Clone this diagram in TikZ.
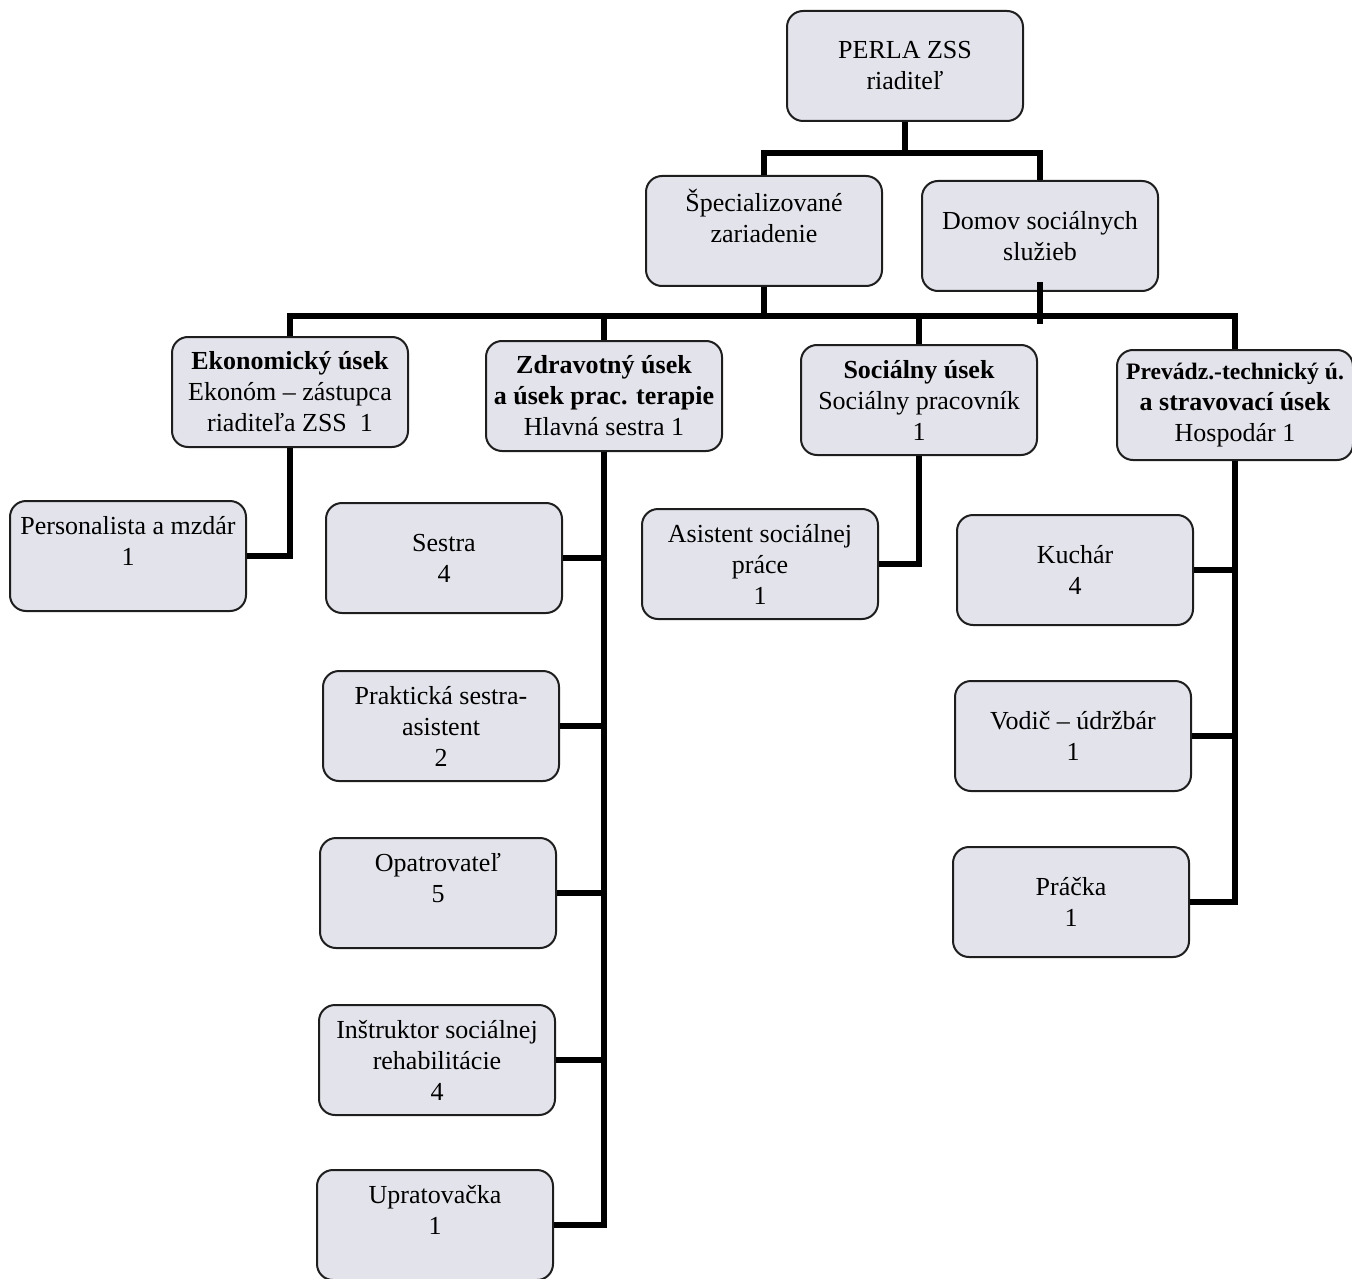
\documentclass[tikz,border=0pt]{standalone}
\usepackage{fontspec}
\setmainfont{Liberation Serif}
\usepackage{tikz}
\usetikzlibrary{calc}
\definecolor{boxfill}{RGB}{227,227,235}
\definecolor{boxline}{RGB}{30,30,30}
\tikzset{
  box/.style={draw=boxline, line width=1pt, fill=boxfill, rounded corners=8pt,
    minimum width=118pt, minimum height=55pt, align=center, inner sep=2pt,
    font=\fontsize{13}{15.5}\selectfont},
  spoj/.style={line width=2.6pt, line join=miter}
}
\begin{document}
\begin{tikzpicture}[x=0.5pt,y=-0.5pt]
  \useasboundingbox (0,0) rectangle (1352,1278);
  % vedenie
  \node[box] (riad) at (905,66) {PERLA ZSS\\riaditeľ};
  \node[box] (spec) at (764,231) {Špecializované\\zariadenie\\~};
  \node[box] (dom) at (1040,236) {Domov sociálnych\\služieb};
  % useky
  \node[box] (ekon) at (290,392) {\textbf{Ekonomický úsek}\\Ekonóm – zástupca\\riaditeľa ZSS~~1};
  \node[box] (zdrav) at (604,396) {\textbf{Zdravotný úsek}\\\textbf{a úsek prac. terapie}\\Hlavná sestra 1};
  \node[box] (soc) at (919,400) {\textbf{Sociálny úsek}\\Sociálny pracovník\\1};
  \node[box] (prev) at (1235,405) {{\fontsize{11.8}{15.5}\selectfont\textbf{Prevádz.-technický ú.}}\\\textbf{a stravovací úsek}\\Hospodár 1};
  % zamestnanci
  \node[box] (pers) at (128,556) {Personalista a mzdár\\1\\~};
  \node[box] (ses) at (444,558) {Sestra\\4};
  \node[box] (prak) at (441,726) {Praktická sestra-\\asistent\\2};
  \node[box] (opat) at (438,893) {Opatrovateľ\\5\\~};
  \node[box] (inst) at (437,1060) {Inštruktor sociálnej\\rehabilitácie\\4};
  \node[box] (uprat) at (435,1225) {Upratovačka\\1\\~};
  \node[box] (asist) at (760,564) {Asistent sociálnej\\práce\\1};
  \node[box] (kuch) at (1075,570) {Kuchár\\4};
  \node[box] (vod) at (1073,736) {Vodič – údržbár\\1};
  \node[box] (prac) at (1071,902) {Práčka\\1};
  % spojnice
  \coordinate (h1) at (905,153);
  \coordinate (bus) at (0,316);
  \draw[spoj] (riad.south) -- (h1);
  \draw[spoj] (spec.north) |- (h1) -| (dom.north);
  \draw[spoj] (spec.south) -- (spec.south |- bus);
  \draw[spoj] ([yshift=5pt]dom.south) -- ([yshift=-4pt]dom.south |- bus);
  \draw[spoj] (ekon.north) -- (ekon.north |- bus) -- (prev.north |- bus) -- (prev.north);
  \draw[spoj] (zdrav.north) -- (zdrav.north |- bus);
  \draw[spoj] (soc.north) -- (soc.north |- bus);
  \draw[spoj] (ekon.south) |- (pers.east);
  \draw[spoj] (zdrav.south) |- (uprat.east);
  \foreach \n in {ses,prak,opat,inst}
    \draw[spoj] (\n.east) -- (zdrav.south |- \n.east);
  \draw[spoj] (soc.south) |- (asist.east);
  \draw[spoj] (prev.south) |- (prac.east);
  \foreach \n in {kuch,vod}
    \draw[spoj] (\n.east) -- (prev.south |- \n.east);
\end{tikzpicture}
\end{document}
